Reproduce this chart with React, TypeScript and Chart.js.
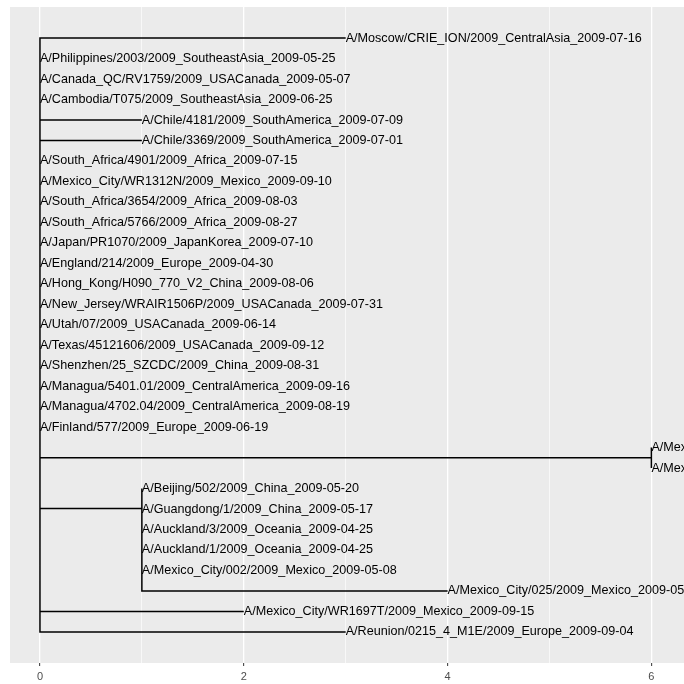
import React, { useEffect, useRef } from "react";
import { Chart, registerables } from "chart.js";

Chart.register(...registerables);

// Tip labels, top to bottom
const tipNames: string[] = [
  "A/Moscow/CRIE_ION/2009_CentralAsia_2009-07-16",
  "A/Philippines/2003/2009_SoutheastAsia_2009-05-25",
  "A/Canada_QC/RV1759/2009_USACanada_2009-05-07",
  "A/Cambodia/T075/2009_SoutheastAsia_2009-06-25",
  "A/Chile/4181/2009_SouthAmerica_2009-07-09",
  "A/Chile/3369/2009_SouthAmerica_2009-07-01",
  "A/South_Africa/4901/2009_Africa_2009-07-15",
  "A/Mexico_City/WR1312N/2009_Mexico_2009-09-10",
  "A/South_Africa/3654/2009_Africa_2009-08-03",
  "A/South_Africa/5766/2009_Africa_2009-08-27",
  "A/Japan/PR1070/2009_JapanKorea_2009-07-10",
  "A/England/214/2009_Europe_2009-04-30",
  "A/Hong_Kong/H090_770_V2_China_2009-08-06",
  "A/New_Jersey/WRAIR1506P/2009_USACanada_2009-07-31",
  "A/Utah/07/2009_USACanada_2009-06-14",
  "A/Texas/45121606/2009_USACanada_2009-09-12",
  "A/Shenzhen/25_SZCDC/2009_China_2009-08-31",
  "A/Managua/5401.01/2009_CentralAmerica_2009-09-16",
  "A/Managua/4702.04/2009_CentralAmerica_2009-08-19",
  "A/Finland/577/2009_Europe_2009-06-19",
  "A/Mexico/InDRE4114/2009_Mexico_2009-04-03",
  "A/Mexico/InDRE4487/2009_Mexico_2009-04-16",
  "A/Beijing/502/2009_China_2009-05-20",
  "A/Guangdong/1/2009_China_2009-05-17",
  "A/Auckland/3/2009_Oceania_2009-04-25",
  "A/Auckland/1/2009_Oceania_2009-04-25",
  "A/Mexico_City/002/2009_Mexico_2009-05-08",
  "A/Mexico_City/025/2009_Mexico_2009-05-04",
  "A/Mexico_City/WR1697T/2009_Mexico_2009-09-15",
  "A/Reunion/0215_4_M1E/2009_Europe_2009-09-04",
];

// Distance from root of each tip
const tipX: number[] = [
  3, 0, 0, 0, 1, 1, 0, 0, 0, 0, 0, 0, 0, 0, 0, 0, 0, 0, 0, 0, 6, 6, 1, 1, 1, 1, 1, 4, 2, 3,
];

// Parent internal node of each tip
const tipParent: number[] = [
  0, 0, 0, 0, 0, 0, 0, 0, 0, 0, 0, 0, 0, 0, 0, 0, 0, 0, 0, 0, 1, 1, 2, 3, 4, 5, 6, 6, 0, 0,
];

// Internal nodes: distance from root and parent node
const nodeX: number[] = [0, 6, 1, 1, 1, 1, 1];
const nodeParent: number[] = [-1, 0, 0, 2, 3, 4, 5];

// Axis ticks
const xTicks: number[] = [0, 1, 2, 3, 4, 5, 6];
const xTickLabels: string[] = ["0", "", "2", "", "4", "", "6"];

const nTips = tipNames.length;
const tipY = tipNames.map((_, i) => nTips - i);

function computeNodeY(): number[] {
  const ys: number[] = new Array(nodeX.length).fill(NaN);
  const calc = (n: number): number => {
    if (!isNaN(ys[n])) return ys[n];
    const vals: number[] = [];
    tipParent.forEach((p, i) => {
      if (p === n) vals.push(tipY[i]);
    });
    nodeParent.forEach((p, j) => {
      if (p === n) vals.push(calc(j));
    });
    ys[n] = vals.reduce((a, b) => a + b, 0) / vals.length;
    return ys[n];
  };
  for (let n = 0; n < nodeX.length; n++) calc(n);
  return ys;
}

function buildSegments() {
  const nodeY = computeNodeY();
  const pts: { x: number; y: number }[] = [];
  const gap = { x: NaN, y: NaN };
  const add = (px: number, py: number, x: number, y: number) => {
    pts.push({ x: px, y: py }, { x: px, y: y }, { x: x, y: y }, gap);
  };
  tipParent.forEach((p, i) => add(nodeX[p], nodeY[p], tipX[i], tipY[i]));
  nodeParent.forEach((p, j) => {
    if (p >= 0) add(nodeX[p], nodeY[p], nodeX[j], nodeY[j]);
  });
  return pts;
}

const panelBg = {
  id: "panelBg",
  beforeDraw(chart: any) {
    const { ctx, chartArea } = chart;
    ctx.save();
    ctx.fillStyle = "#EBEBEB";
    ctx.fillRect(chartArea.left, chartArea.top, chartArea.right - chartArea.left, chartArea.bottom - chartArea.top);
    ctx.restore();
  },
};

const tipLabels = {
  id: "tipLabels",
  afterDatasetsDraw(chart: any) {
    const { ctx } = chart;
    const xs = chart.scales.x;
    const ys = chart.scales.y;
    ctx.save();
    ctx.fillStyle = "#000000";
    ctx.font = "12.6px 'Liberation Sans', Arial, sans-serif";
    ctx.textAlign = "left";
    ctx.textBaseline = "middle";
    tipNames.forEach((name, i) => {
      ctx.fillText(name, xs.getPixelForValue(tipX[i]), ys.getPixelForValue(tipY[i]));
    });
    ctx.restore();
  },
};

export default function App() {
  const ref = useRef<HTMLCanvasElement | null>(null);
  useEffect(() => {
    if (!ref.current) return;
    const chart = new Chart(ref.current, {
      type: "scatter",
      data: {
        datasets: [
          {
            data: buildSegments(),
            showLine: true,
            spanGaps: false,
            borderColor: "#000000",
            borderWidth: 1.5,
            borderJoinStyle: "miter",
            pointRadius: 0,
            pointHoverRadius: 0,
          } as any,
        ],
      },
      options: {
        animation: false,
        responsive: false,
        layout: { padding: { left: 10, top: 7, right: 0, bottom: 0 } },
        plugins: { legend: { display: false }, tooltip: { enabled: false } },
        scales: {
          x: {
            type: "linear",
            min: -0.294,
            max: 6.32,
            afterBuildTicks: (scale: any) => {
              scale.ticks = xTicks.map((v) => ({ value: v }));
            },
            afterFit: (scale: any) => {
              scale.height = 21;
            },
            border: { display: false },
            grid: {
              color: "#FFFFFF",
              lineWidth: (c: any) => (c.tick && c.tick.value % 2 === 0 ? 1.3 : 0.65),
              tickColor: (c: any) => (c.tick && c.tick.value % 2 === 0 ? "#333333" : "rgba(0,0,0,0)"),
              tickLength: 3,
              tickWidth: 1,
              drawTicks: true,
            },
            ticks: {
              autoSkip: false,
              maxRotation: 0,
              padding: 4,
              color: "#4D4D4D",
              font: { family: "'Liberation Sans', Arial, sans-serif", size: 11 },
              callback: (v: any) => {
                const idx = xTicks.indexOf(Number(v));
                return idx >= 0 ? xTickLabels[idx] : "";
              },
            },
          },
          y: {
            type: "linear",
            min: -0.52,
            max: 31.52,
            display: false,
          },
        },
      },
      plugins: [panelBg, tipLabels],
    });
    return () => chart.destroy();
  }, []);
  return (
    <div style={{ position: "absolute", left: 0, top: 0, width: 684, height: 684, background: "#FFFFFF" }}>
      <canvas ref={ref} width={684} height={684} style={{ display: "block" }} />
    </div>
  );
}
